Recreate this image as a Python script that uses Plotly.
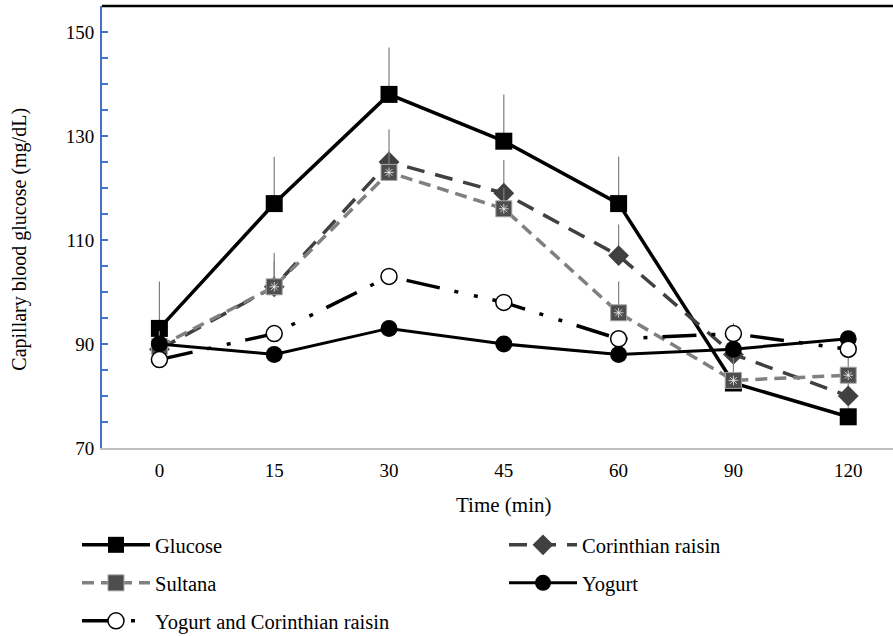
import plotly.graph_objects as go

time_labels = ["0", "15", "30", "45", "60", "90", "120"]

glucose = [93, 117, 138, 129, 117, 82.5, 76]
glucose_err = [9, 9, 9, 9, 9, 2, 2]

corinthian = [89, 101, 125, 119, 107, 88, 80]
corinthian_err = [3, 5, 6.3, 6.4, 6, 3, 2.5]

sultana = [89.5, 101, 123, 116, 96, 83, 84]
sultana_err = [3, 6.5, 4, 4, 6, 5, 4]

yogurt = [90, 88, 93, 90, 88, 89, 91]
yogurt_err = [1, 1, 1, 1, 1, 1, 1]

yogurt_corinthian = [87, 92, 103, 98, 91, 92, 89]
yogurt_corinthian_err = [1.5, 1.5, 1.5, 1.5, 1.5, 2, 1.5]

FONT = "Times New Roman, Liberation Serif, serif"
ERR_COLOR = "#7f7f7f"


def err(vals):
    return dict(type="data", array=vals, arrayminus=[0] * len(vals), symmetric=False,
                color=ERR_COLOR, thickness=1.2, width=0)


fig = go.Figure()

fig.add_trace(go.Scatter(
    x=time_labels, y=glucose, name="Glucose", mode="lines+markers", legend="legend",
    line=dict(color="black", width=3.5),
    marker=dict(symbol="square", size=17, color="black"),
    error_y=err(glucose_err)))

fig.add_trace(go.Scatter(
    x=time_labels, y=corinthian, name="Corinthian raisin", mode="lines+markers",
    legend="legend2",
    line=dict(color="#404040", width=3.5, dash="18px,11px"),
    marker=dict(symbol="diamond", size=16, color="#404040"),
    error_y=err(corinthian_err)))

fig.add_trace(go.Scatter(
    x=time_labels, y=sultana, name="Sultana", mode="lines+markers", legend="legend3",
    line=dict(color="#808080", width=3.5, dash="12px,7px"),
    marker=dict(symbol="square", size=16, color="#4d4d4d",
                line=dict(color="#a6a6a6", width=1)),
    error_y=err(sultana_err)))

# checkered texture overlay for Sultana markers
fig.add_trace(go.Scatter(
    x=time_labels, y=sultana, mode="markers", showlegend=False, hoverinfo="skip",
    marker=dict(symbol="asterisk-open", size=8, color="rgba(255,255,255,0.75)",
                line=dict(color="rgba(255,255,255,0.75)", width=1))))

fig.add_trace(go.Scatter(
    x=time_labels, y=yogurt, name="Yogurt", mode="lines+markers", legend="legend4",
    line=dict(color="black", width=3),
    marker=dict(symbol="circle", size=17, color="black"),
    error_y=err(yogurt_err)))

fig.add_trace(go.Scatter(
    x=time_labels, y=yogurt_corinthian, name="Yogurt and Corinthian raisin",
    mode="lines+markers", legend="legend5",
    line=dict(color="black", width=3.5, dash="34px,15px,4px,16px,4px,15px"),
    marker=dict(symbol="circle", size=16, color="white",
                line=dict(color="black", width=1.5)),
    error_y=err(yogurt_corinthian_err)))


def leg(x, y):
    return dict(orientation="h", xref="container", yref="container", x=x, y=y,
                xanchor="left", yanchor="middle", itemwidth=68,
                font=dict(family=FONT, size=20.5), bgcolor="rgba(0,0,0,0)")


col1, col2 = 0.0862, 0.5644
row1, row2, row3 = 0.1431, 0.0833, 0.0236

fig.update_layout(
    width=893, height=636,
    margin=dict(l=102, r=0, t=6, b=188),
    paper_bgcolor="white", plot_bgcolor="white",
    font=dict(family=FONT, size=19, color="black"),
    showlegend=True,
    legend=leg(col1, row1),
    legend2=leg(col2, row1),
    legend3=leg(col1, row2),
    legend4=leg(col2, row2),
    legend5=leg(col1, row3),
    xaxis=dict(type="category", range=[-0.5, 6.39], showgrid=False, zeroline=False,
               showline=True, linecolor="#bfbfbf", linewidth=1.5, ticks="",
               tickfont=dict(family=FONT, size=19), ticklabelstandoff=4),
    yaxis=dict(range=[70, 155], showgrid=False, zeroline=False,
               showline=True, linecolor="#4472C4", linewidth=2,
               tickmode="linear", tick0=70, dtick=20,
               ticks="inside", ticklen=6, tickwidth=1.5, tickcolor="#4472C4",
               minor=dict(dtick=5, tick0=70, ticks="inside", ticklen=6,
                          tickwidth=1.5, tickcolor="#4472C4"),
               tickfont=dict(family=FONT, size=19), ticklabelstandoff=2),
    shapes=[dict(type="line", xref="paper", yref="paper", x0=0, x1=1, y0=1, y1=1,
                 line=dict(color="black", width=2.5))],
    annotations=[
        dict(text="Time (min)", xref="paper", yref="paper", x=0.507, y=-0.129,
             xanchor="center", yanchor="middle", showarrow=False,
             font=dict(family=FONT, size=21)),
        dict(text="Capillary blood glucose (mg/dL)", xref="paper", yref="paper",
             x=-0.104, y=0.473, xanchor="center", yanchor="middle", textangle=-90,
             showarrow=False, font=dict(family=FONT, size=20)),
    ],
)

fig.write_html("out.html", config={"displayModeBar": False},
               post_script="document.body.style.margin='0px';")
